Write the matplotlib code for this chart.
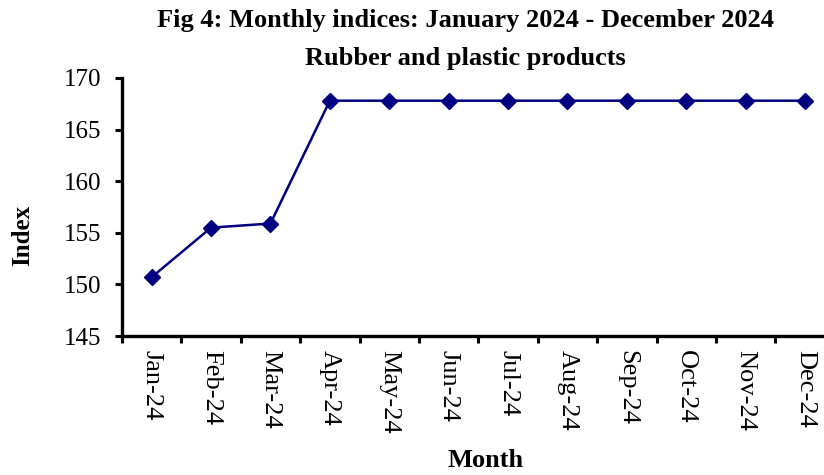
import numpy as np
import matplotlib
matplotlib.use("Agg")
import matplotlib.pyplot as plt

months = ["Jan-24", "Feb-24", "Mar-24", "Apr-24", "May-24", "Jun-24",
          "Jul-24", "Aug-24", "Sep-24", "Oct-24", "Nov-24", "Dec-24"]
index_values = [150.7, 155.5, 155.9, 167.8, 167.8, 167.8,
                167.8, 167.8, 167.8, 167.8, 167.8, 167.8]
y_ticks = [145, 150, 155, 160, 165, 170]

plt.rcParams['font.family'] = ['Liberation Serif', 'DejaVu Serif']

fig = plt.figure(figsize=(8.24, 4.75), dpi=100)
ax = fig.add_axes([0.148, 0.2926, 1.013 - 0.148, 0.8358 - 0.2926])

x = np.arange(len(months))
ax.plot(x, index_values, color="#000080", linewidth=1.8,
        marker="D", markersize=8.5, markerfacecolor="#000080",
        markeredgecolor="#000080", clip_on=False)

ax.set_xlim(-0.5, len(months) - 0.5)
ax.set_ylim(145, 170)
ax.set_yticks(y_ticks)
ax.set_yticklabels([str(v) for v in y_ticks], fontsize=18)

# ticks between categories, labels at the centres
ax.set_xticks(np.arange(-0.5, len(months), 1))
ax.set_xticklabels([])
ax.set_xticks(x, minor=True)
ax.set_xticklabels(months, minor=True, rotation=270, fontsize=19, va="top")
ax.tick_params(axis="x", which="minor", length=0, pad=10)
ax.tick_params(axis="both", which="major", direction="out", length=5, width=2.2)
ax.tick_params(axis="y", pad=10)

for side in ["top", "right"]:
    ax.spines[side].set_visible(False)
for side in ["left", "bottom"]:
    ax.spines[side].set_linewidth(2.4)

fig.text(0.565, 0.957, "Fig 4: Monthly indices: January 2024 - December 2024",
         ha="center", va="center", fontsize=19, fontweight="bold")
fig.text(0.565, 0.877, "Rubber and plastic products",
         ha="center", va="center", fontsize=19, fontweight="bold")
fig.text(0.027, 0.505, "Index", rotation=90, ha="center", va="center",
         fontsize=18, fontweight="bold")
fig.text(0.589, 0.03, "Month", ha="center", va="center",
         fontsize=19, fontweight="bold")

fig.savefig("out.png", dpi=100)
